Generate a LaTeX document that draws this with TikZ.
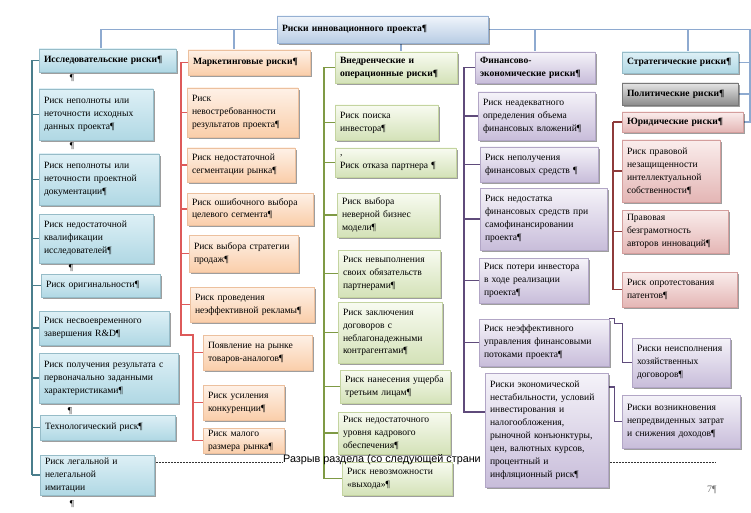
\documentclass[tikz,border=0pt]{standalone}
\usepackage{fontspec}
\setmainfont{Liberation Serif}
\newfontfamily\brkfont{Liberation Sans}
\usetikzlibrary{shadows,backgrounds,calc}
\definecolor{ltop}{HTML}{8EAAD0}
\definecolor{lA}{HTML}{4A7E8C}
\definecolor{lB}{HTML}{DD5A5A}
\definecolor{lC}{HTML}{7F9A45}
\definecolor{lD}{HTML}{5F4B7B}
\definecolor{lE}{HTML}{8E3B3B}
\tikzset{
  bx/.style={rectangle, draw, line width=0.6pt, inner xsep=5pt, inner ysep=1pt, align=left,
    font=\fontsize{9.6}{12.9}\selectfont,
    drop shadow={shadow xshift=1.5pt, shadow yshift=-1.6pt, opacity=0.38, fill=black}},
  hd/.style={bx, font=\fontsize{9.6}{12.9}\selectfont\bfseries},
  fblue/.style={top color={rgb,255:red,222;green,240;blue,246}, bottom color={rgb,255:red,176;green,216;blue,228}, draw={rgb,255:red,150;green,188;blue,200}},
  ftop/.style={top color={rgb,255:red,240;green,245;blue,251}, bottom color={rgb,255:red,184;green,204;blue,228}, draw={rgb,255:red,150;green,176;blue,210}},
  forange/.style={top color={rgb,255:red,254;green,241;blue,231}, bottom color={rgb,255:red,250;green,206;blue,170}, draw={rgb,255:red,236;green,192;blue,158}},
  fgreen/.style={top color={rgb,255:red,248;green,251;blue,241}, bottom color={rgb,255:red,212;green,226;blue,184}, draw={rgb,255:red,196;green,212;blue,160}},
  fpurple/.style={top color={rgb,255:red,245;green,243;blue,249}, bottom color={rgb,255:red,200;green,189;blue,218}, draw={rgb,255:red,178;green,166;blue,198}},
  fpink/.style={top color={rgb,255:red,250;green,237;blue,236}, bottom color={rgb,255:red,228;green,182;blue,181}, draw={rgb,255:red,212;green,158;blue,157}},
  fgray/.style={top color={rgb,255:red,228;green,228;blue,228}, bottom color={rgb,255:red,140;green,140;blue,140}, draw={rgb,255:red,120;green,120;blue,120}},
  ctop/.style={ltop, line width=1.2pt},
  cA/.style={lA, line width=1.5pt},
  cB/.style={lB, line width=1.5pt},
  cC/.style={lC, line width=1.5pt},
  cD/.style={lD, line width=1.5pt},
  cE/.style={lE, line width=1.5pt},
  pil/.style={inner sep=0pt, font=\fontsize{9}{10}\selectfont},
  brk/.style={dash pattern=on 0.7pt off 0.8pt, line width=0.7pt, black!80}
}
\newcommand\RBox[7]{%
  \pgfmathsetmacro\rbw{#4-#2}\pgfmathsetmacro\rbh{#5-#3}\pgfmathsetmacro\rbt{#4-#2-10}%
  \pgfmathsetmacro\rbx{(#2+#4)/2}\pgfmathsetmacro\rby{(#3+#5)/2}%
  \node[#6, minimum width=\rbw pt, minimum height=\rbh pt, text width=\rbt pt] (#1) at (\rbx,\rby) {#7};}
\begin{document}
\begin{tikzpicture}[x=1pt,y=-1pt]
\useasboundingbox (0,0) rectangle (751,513);
\begin{scope}[on background layer]
  \fill[white] (0,0) rectangle (751,513);
\end{scope}

% top
\RBox{T}{277}{16}{488}{43}{hd,ftop}{Риски инновационного проекта¶}

% column 1
\RBox{h1}{39}{49}{176}{72}{hd,fblue}{Исследовательские риски¶}
\RBox{a1}{39}{89}{153}{140}{bx,fblue}{Риск неполноты или\\неточности исходных\\данных проекта¶}
\RBox{a2}{39}{154}{159}{205}{bx,fblue}{Риск неполноты или\\неточности проектной\\документации¶}
\RBox{a3}{39}{214}{153}{263}{bx,fblue}{Риск недостаточной\\квалификации\\исследователей¶}
\RBox{a4}{41}{274}{160}{297}{bx,fblue}{Риск оригинальности¶}
\RBox{a5}{39}{311}{169}{345}{bx,fblue}{Риск несвоевременного\\завершения R\&D¶}
\RBox{a6}{39}{353}{178}{403}{bx,fblue}{Риск получения результата с\\первоначально заданными\\характеристиками¶}
\RBox{a7}{40}{415}{175}{440}{bx,fblue}{Технологический риск¶}
\RBox{a8}{40}{455}{154}{495}{bx,fblue}{Риск легальной и\\нелегальной\\имитации}

% column 2
\RBox{h2}{188}{50}{310}{75}{hd,forange}{Маркетинговые риски¶}
\RBox{b1}{187}{88}{298}{137}{bx,forange}{Риск\\невостребованности\\результатов проекта¶}
\RBox{b2}{187}{148}{295}{182}{bx,forange}{Риск недостаточной\\сегментации рынка¶}
\RBox{b3}{187}{193}{313}{225}{bx,forange}{Риск ошибочного выбора\\целевого сегмента¶}
\RBox{b4}{189}{235}{298}{272}{bx,forange}{Риск выбора стратегии\\продаж¶}
\RBox{b5}{190}{287}{314}{322}{bx,forange}{Риск проведения\\неэффективной рекламы¶}
\RBox{b6}{203}{335}{312}{370}{bx,forange}{Появление на рынке\\товаров-аналогов¶}
\RBox{b7}{203}{385}{284}{420}{bx,forange}{Риск усиления\\конкуренции¶}
\RBox{b8}{203}{428}{284}{453}{bx,forange}{Риск малого\\размера рынка¶}

% column 3
\RBox{h3}{335}{52}{457}{83}{hd,fgreen}{Внедренческие и\\операционные риски¶}
\RBox{c1}{335}{105}{438}{140}{bx,fgreen}{Риск поиска\\инвестора¶}
\RBox{c2}{335}{148}{456}{177}{bx,fgreen}{,\\Риск отказа партнера ¶}
\RBox{c3}{337}{193}{439}{237}{bx,fgreen}{Риск выбора\\неверной бизнес\\модели¶}
\RBox{c4}{338}{250}{440}{297}{bx,fgreen}{Риск невыполнения\\своих обязательств\\партнерами¶}
\RBox{c5}{338}{302}{442}{363}{bx,fgreen}{Риск заключения\\договоров с\\неблагонадежными\\контрагентами¶}
\RBox{c6}{340}{370}{450}{403}{bx,fgreen}{Риск нанесения ущерба\\третьим лицам¶}
\RBox{c7}{338}{412}{450}{454}{bx,fgreen}{Риск недостаточного\\уровня кадрового\\обеспечения¶}
\RBox{c8}{342}{462}{452}{495}{bx,fgreen}{Риск невозможности\\«выхода»¶}

% column 4
\RBox{h4}{475}{52}{595}{83}{hd,fpurple}{Финансово-\\экономические риски¶}
\RBox{f1}{478}{92}{595}{140}{bx,fpurple}{Риск неадекватного\\определения объема\\финансовых вложений¶}
\RBox{f2}{480}{147}{598}{182}{bx,fpurple}{Риск неполучения\\финансовых средств ¶}
\RBox{f3}{480}{188}{607}{250}{bx,fpurple}{Риск недостатка\\финансовых средств при\\самофинансировании\\проекта¶}
\RBox{f4}{479}{258}{588}{303}{bx,fpurple}{Риск потери инвестора\\в ходе реализации\\проекта¶}
\RBox{f5}{479}{319}{609}{366}{bx,fpurple}{Риск неэффективного\\управления финансовыми\\потоками проекта¶}

% column 5
\RBox{s1}{622}{52}{738}{73}{hd,fblue}{Стратегические риски¶}
\RBox{p1}{622}{83}{738}{105}{hd,fgray}{Политические риски¶}
\RBox{j1}{622}{112}{743}{132}{hd,fpink}{Юридические риски¶}
\RBox{j2}{622}{140}{720}{202}{bx,fpink}{Риск правовой\\незащищенности\\интеллектуальной\\собственности¶}
\RBox{j3}{622}{210}{728}{253}{bx,fpink}{Правовая\\безграмотность\\авторов инноваций¶}
\RBox{j4}{622}{272}{737}{307}{bx,fpink}{Риск опротестования\\патентов¶}
\RBox{r1}{632}{338}{730}{387}{bx,fpurple}{Риски неисполнения\\хозяйственных\\договоров¶}
\RBox{r2}{622}{395}{740}{448}{bx,fpurple}{Риски возникновения\\непредвиденных затрат\\и снижения доходов¶}

% section break text (visible part)
\node[anchor=base west, inner sep=0pt, font=\brkfont\fontsize{10.8}{12}\selectfont] (brk) at (283,462) {Разрыв раздела (со следующей страни};

\RBox{f6}{485}{373}{608}{487}{bx,fpurple}{Риски экономической\\нестабильности, условий\\инвестирования и\\налогообложения,\\рыночной конъюнктуры,\\цен, валютных курсов,\\процентный и\\инфляционный риск¶}

% stray paragraph marks and page number
\node[pil] (m1) at (72,78) {¶};
\node[pil] (m2) at (72,146) {¶};
\node[pil] (m3) at (71,268) {¶};
\node[pil] (m4) at (70,411) {¶};
\node[pil] (m5) at (72,504) {¶};
\node[inner sep=0pt, text=black!55, font=\fontsize{10}{12}\selectfont] (pg) at (712,490) {7¶};

\begin{scope}[on background layer]
  % top connectors
  \draw[ctop] (T.west) -| (h1.north -| 101,0);
  \draw[ctop] (T.west) -| (h2.north -| 234,0);
  \draw[ctop] (T.south -| 401,0) -- (h3.north -| 401,0);
  \draw[ctop] (T.east) -| (h4.north -| 535,0);
  \draw[ctop] (T.east) -| (s1.north -| 688,0);
  \draw[ctop] (T.east) -| (j1.east -| 750,0) -- (j1.east);
  \draw[ctop] (s1.east) -- (s1.east -| 750,0);
  \draw[ctop] (p1.east) -- (p1.east -| 750,0);
  % column 1
  \draw[cA] (h1.west -| 32,0) -- (a8.west -| 32,0);
  \foreach \n in {h1,a1,a2,a3,a4,a5,a6,a7,a8} \draw[cA] (\n.west -| 32,0) -- (\n.west);
  % column 2
  \draw[cB] (h2.west -| 181,0) -- (181,335) -- (193,335) -- (b8.west -| 193,0);
  \foreach \n in {h2,b1,b2,b3,b4,b5} \draw[cB] (\n.west -| 181,0) -- (\n.west);
  \foreach \n in {b6,b7,b8} \draw[cB] (\n.west -| 193,0) -- (\n.west);
  % column 3
  \draw[cC] (h3.west -| 324,0) -- (c8.west -| 324,0);
  \foreach \n in {h3,c1,c2,c3,c4,c5,c6,c7,c8} \draw[cC] (\n.west -| 324,0) -- (\n.west);
  % column 4
  \draw[cD] (h4.west -| 464,0) -- (464,412) -- (f6.west |- 0,412);
  \foreach \n in {h4,f1,f2,f3,f4,f5} \draw[cD] (\n.west -| 464,0) -- (\n.west);
  \draw[cD] (f5.north east) -- ++(5,0) -- ++(0,5) -- ++(8,0) |- (r1.west);
  \draw[cD] (f6.east |- 0,387) -- ++(6,0) |- (r2.west);
  % column 5
  \draw[cE] (j1.west -| 613,0) -- (j4.west -| 613,0);
  \foreach \n in {j1,j2,j3,j4} \draw[cE] (\n.west -| 613,0) -- (\n.west);
  % section break
  \draw[brk] (a8.east |- 0,462) -- (brk.base west);
  \draw[brk] (f6.east |- 0,462) -- (715,462);
\end{scope}
\end{tikzpicture}
\end{document}
